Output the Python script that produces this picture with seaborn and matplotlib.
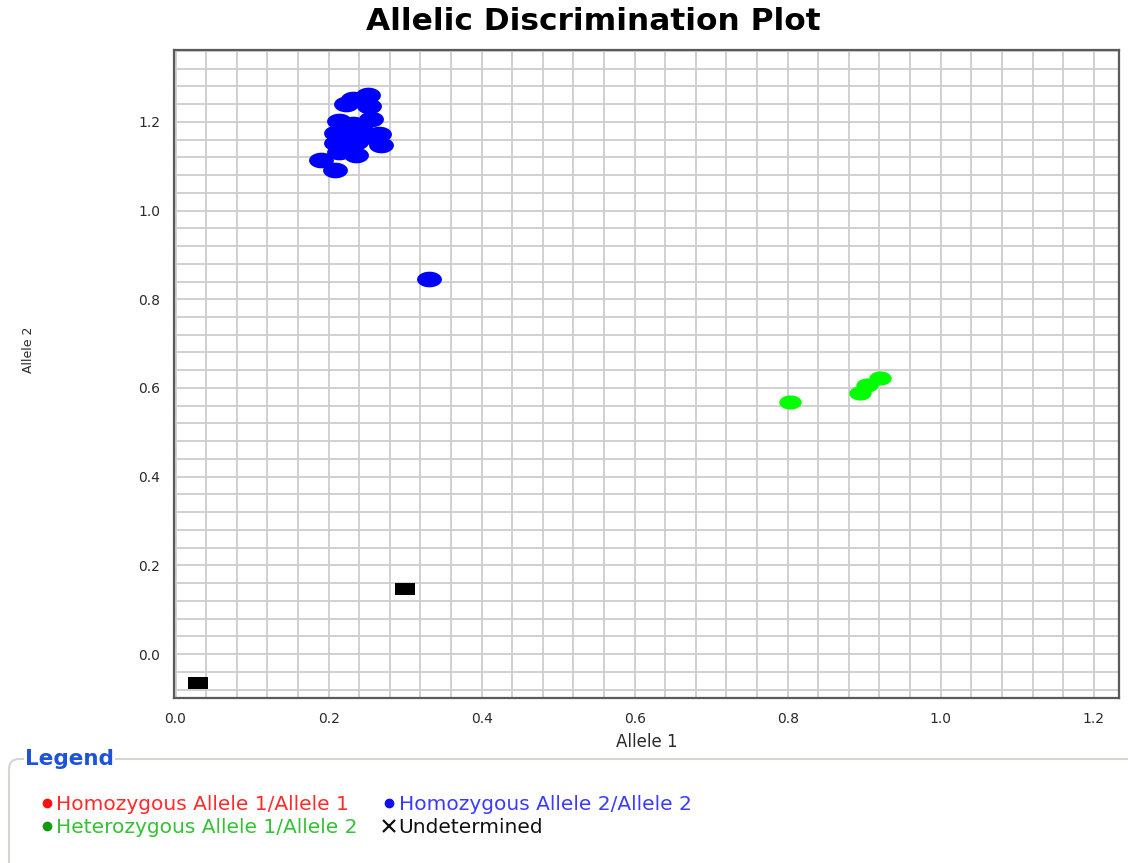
import numpy as np
import pandas as pd
import matplotlib
matplotlib.use("Agg")
import matplotlib.pyplot as plt
import seaborn as sns
from matplotlib.path import Path
from matplotlib.patches import FancyBboxPatch
from matplotlib.lines import Line2D
from matplotlib.ticker import MultipleLocator, FormatStrFormatter
from matplotlib.transforms import IdentityTransform

# Allele signal readings per sample, grouped by genotype call
hom2_allele1 = [0.252, 0.232, 0.223, 0.253, 0.256, 0.214, 0.232, 0.243, 0.222,
                0.266, 0.269, 0.210, 0.210, 0.236, 0.214, 0.236, 0.190, 0.209,
                0.225, 0.245, 0.222, 0.226, 0.331]
hom2_allele2 = [1.260, 1.252, 1.240, 1.236, 1.207, 1.203, 1.195, 1.182, 1.178,
                1.172, 1.148, 1.175, 1.153, 1.155, 1.132, 1.125, 1.114, 1.091,
                1.190, 1.165, 1.162, 1.142, 0.846]

het_allele1 = [0.803, 0.895, 0.904, 0.921]
het_allele2 = [0.568, 0.588, 0.607, 0.622]

undet_allele1 = [0.030, 0.300]
undet_allele2 = [-0.066, 0.146]

legend_labels = ["Homozygous Allele 1/Allele 1", "Heterozygous Allele 1/Allele 2",
                 "Homozygous Allele 2/Allele 2", "Undetermined"]
x_ticks = [0.0, 0.2, 0.4, 0.6, 0.8, 1.0, 1.2]
y_ticks = [0.0, 0.2, 0.4, 0.6, 0.8, 1.0, 1.2]

df = pd.concat([
    pd.DataFrame({"Allele 1": hom2_allele1, "Allele 2": hom2_allele2, "call": "hom2"}),
    pd.DataFrame({"Allele 1": het_allele1, "Allele 2": het_allele2, "call": "het"}),
    pd.DataFrame({"Allele 1": undet_allele1, "Allele 2": undet_allele2, "call": "undet"}),
], ignore_index=True)

sns.set_theme(style="white")
plt.rcParams["font.family"] = ["DejaVu Sans"]

# flattened marker shapes: wide ellipse and wide rectangle
t = np.linspace(0, 2 * np.pi, 64)
ellipse = Path(np.column_stack([np.cos(t), 0.63 * np.sin(t)]), closed=True)
rect = Path([(-1, -0.57), (1, -0.57), (1, 0.57), (-1, 0.57), (-1, -0.57)], closed=True)

fig = plt.figure(figsize=(11.28, 8.63), dpi=100)
ax = fig.add_axes([174 / 1128, 1 - 698 / 863, (1119 - 174) / 1128, (698 - 50) / 863])

styles = {
    "hom2": dict(color="#0000ff", marker=ellipse, s=320),
    "het": dict(color="#00ff00", marker=ellipse, s=260),
    "undet": dict(color="#000000", marker=rect, s=220),
}
for call, st in styles.items():
    sub = df[df["call"] == call]
    sns.scatterplot(data=sub, x="Allele 1", y="Allele 2", ax=ax,
                    color=st["color"], marker=st["marker"], s=st["s"],
                    linewidth=0, legend=False, zorder=3)

ax.set_xlim(-0.002, 1.233)
ax.set_ylim(-0.099, 1.362)
ax.xaxis.set_minor_locator(MultipleLocator(0.04))
ax.yaxis.set_minor_locator(MultipleLocator(0.04))
ax.set_xticks(x_ticks)
ax.set_yticks(y_ticks)
ax.xaxis.set_major_formatter(FormatStrFormatter("%.1f"))
ax.yaxis.set_major_formatter(FormatStrFormatter("%.1f"))
ax.set_axisbelow(True)
ax.grid(which="both", color="#cdcdcd", linewidth=1.3)
ax.tick_params(which="both", direction="out", length=6, width=1.2,
               color="#c4c4c4", labelsize=10, labelcolor="#2a2a2a", pad=4)
for sp in ax.spines.values():
    sp.set_visible(True)
    sp.set_color("#5a5a5a")
    sp.set_linewidth(1.6)

ax.set_xlabel("Allele 1", fontsize=12, color="#2a2a2a", labelpad=5)
ax.set_ylabel("")
fig.text(29 / 1128, 1 - 350 / 863, "Allele 2", rotation=90, fontsize=9,
         color="#2a2a2a", ha="center", va="center")

fig.text(593 / 1128, 1 - 21 / 863, "Allelic Discrimination Plot", fontsize=22.5,
         fontweight="bold", ha="center", va="center", color="#000000")

# legend panel below the plot
panel = FancyBboxPatch((9, -30), 1160, 863 - 759 + 30,
                       boxstyle="round,pad=0,rounding_size=10",
                       transform=IdentityTransform(), facecolor="white",
                       edgecolor="#d6d6ce", linewidth=1.5)
fig.add_artist(panel)
fig.text(25 / 1128, 1 - 759 / 863, "Legend", fontsize=15.5, fontweight="bold",
         color="#1f52dc", ha="left", va="center",
         bbox=dict(facecolor="white", edgecolor="none", pad=1))

handles = [
    Line2D([], [], linestyle="none", marker="o", markersize=6, color="#ff1010"),
    Line2D([], [], linestyle="none", marker="o", markersize=6, color="#119a11"),
    Line2D([], [], linestyle="none", marker="o", markersize=6, color="#1010ee"),
    Line2D([], [], linestyle="none", marker="x", markersize=8, color="#111111",
           markeredgewidth=1.6),
]
leg = fig.legend(handles, legend_labels, ncol=2, loc="upper left",
                 bbox_to_anchor=(42 / 1128, 1 - 795 / 863), frameon=False,
                 fontsize=14.5, handlelength=0.5, handletextpad=0.22,
                 columnspacing=1.3, labelspacing=0.2, borderpad=0, borderaxespad=0)
for txt, col in zip(leg.get_texts(), ["#ff2a2a", "#33c233", "#3b3bff", "#111111"]):
    txt.set_color(col)

fig.savefig("out.png", dpi=100)
